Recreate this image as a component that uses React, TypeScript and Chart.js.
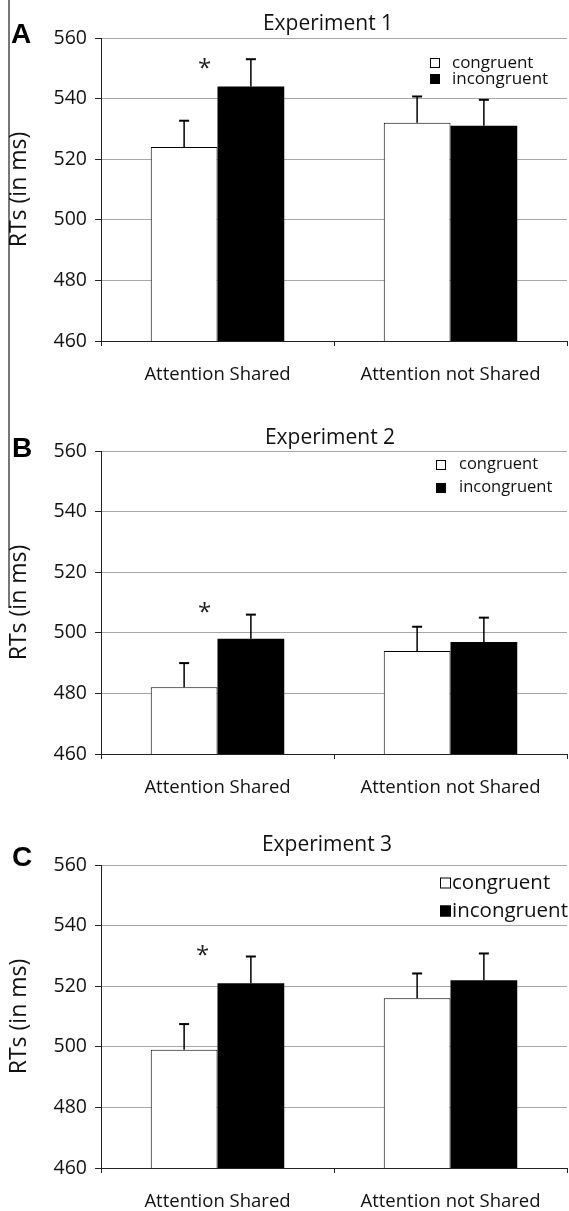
import React, { useEffect, useRef } from "react";
import { Chart, registerables } from "chart.js";

Chart.register(...registerables);

// ---------- data ----------
const categories = ["Attention Shared", "Attention not Shared"];
const seriesNames = ["congruent", "incongruent"];
const panelTitles = ["Experiment 1", "Experiment 2", "Experiment 3"];
const panelLetters = ["A", "B", "C"];

const exp1Congruent = [524, 532];
const exp1Incongruent = [544, 531];
const exp1CongruentErr = [8.7, 8.7];
const exp1IncongruentErr = [9, 8.6];

const exp2Congruent = [482, 494];
const exp2Incongruent = [498, 497];
const exp2CongruentErr = [8, 8];
const exp2IncongruentErr = [8, 8];

const exp3Congruent = [499, 516];
const exp3Incongruent = [521, 522];
const exp3CongruentErr = [8.5, 8.2];
const exp3IncongruentErr = [8.8, 8.8];

// significance star value (over "Attention Shared")
const starValues = [552, 508.6, 532];

const yMin = 460;
const yMax = 560;
const yStep = 20;
const yAxisTitle = "RTs (in ms)";

// ---------- layout / style ----------
const FONT = "'Open Sans', sans-serif";
const W = 569;

type PanelLayout = {
  canvasTop: number;
  canvasHeight: number;
  areaTop: number;
  areaBottom: number;
  axisH: number;
  titleX: number;
  titleCapMid: number;
  letterX: number;
  letterBaseline: number;
  legendBoxX: number;
  legendTextX: number;
  legendRows: number[];
  legendFont: number;
  legendBox: number;
  starDx: number;
};

const layouts: PanelLayout[] = [
  {
    canvasTop: 0, canvasHeight: 400, areaTop: 38, areaBottom: 341, axisH: 50,
    titleX: 328, titleCapMid: 23, letterX: 11, letterBaseline: 43,
    legendBoxX: 430, legendTextX: 452, legendRows: [63, 79], legendFont: 17, legendBox: 10, starDx: -13,
  },
  {
    canvasTop: 400, canvasHeight: 410, areaTop: 451, areaBottom: 754, axisH: 50,
    titleX: 330, titleCapMid: 437, letterX: 12, letterBaseline: 457,
    legendBoxX: 436, legendTextX: 459, legendRows: [465, 488], legendFont: 16.5, legendBox: 10, starDx: -13,
  },
  {
    canvasTop: 810, canvasHeight: 401, areaTop: 865, areaBottom: 1168, axisH: 40,
    titleX: 327, titleCapMid: 844, letterX: 12, letterBaseline: 866,
    legendBoxX: 440, legendTextX: 452, legendRows: [883, 911], legendFont: 20.5, legendBox: 11, starDx: -15,
  },
];

const panelData = [
  { c: exp1Congruent, i: exp1Incongruent, ce: exp1CongruentErr, ie: exp1IncongruentErr },
  { c: exp2Congruent, i: exp2Incongruent, ce: exp2CongruentErr, ie: exp2IncongruentErr },
  { c: exp3Congruent, i: exp3Incongruent, ce: exp3CongruentErr, ie: exp3IncongruentErr },
];

const decorPlugin = {
  id: "decor",
  afterDatasetsDraw(chart: any, _args: any, opts: any) {
    const ctx = chart.ctx;
    const ys = chart.scales.y;
    const errs: number[][] = opts.errors;
    chart.data.datasets.forEach((ds: any, di: number) => {
      const meta = chart.getDatasetMeta(di);
      meta.data.forEach((el: any, i: number) => {
        const v = ds.data[i] as number;
        const yTop = ys.getPixelForValue(v + errs[di][i]);
        ctx.save();
        ctx.strokeStyle = "#000";
        ctx.lineWidth = 1.5;
        ctx.beginPath();
        ctx.moveTo(el.x, el.y);
        ctx.lineTo(el.x, yTop);
        ctx.stroke();
        ctx.lineWidth = 2;
        ctx.beginPath();
        ctx.moveTo(el.x - 5, yTop);
        ctx.lineTo(el.x + 5, yTop);
        ctx.stroke();
        ctx.restore();
      });
    });
  },
  afterDraw(chart: any, _args: any, opts: any) {
    const ctx = chart.ctx;
    const L: PanelLayout = opts.layout;
    const off = L.canvasTop;
    const xs = chart.scales.x;
    const ys = chart.scales.y;
    ctx.save();
    ctx.fillStyle = "#111";
    // title
    const tSize = 21;
    ctx.font = `${tSize}px ${FONT}`;
    ctx.textAlign = "center";
    ctx.textBaseline = "alphabetic";
    ctx.fillText(opts.title, L.titleX, L.titleCapMid - off + tSize * 0.357);
    // letter
    ctx.font = `bold 28px 'Liberation Sans', Arial, sans-serif`;
    ctx.textAlign = "left";
    ctx.fillStyle = "#000";
    ctx.fillText(opts.letter, L.letterX, L.letterBaseline - off);
    // star
    const sSize = 24;
    ctx.font = `${sSize}px ${FONT}`;
    ctx.textAlign = "center";
    ctx.fillStyle = "#222";
    const sx = xs.getPixelForValue(0) + L.starDx;
    const sy = ys.getPixelForValue(opts.star);
    ctx.fillText("*", sx, sy + sSize * 0.56);
    // legend
    ctx.font = `${L.legendFont}px ${FONT}`;
    ctx.textAlign = "left";
    chart.data.datasets.forEach((ds: any, di: number) => {
      const cy = Math.round(L.legendRows[di] - off);
      const b = L.legendBox;
      ctx.fillStyle = ds.backgroundColor;
      ctx.fillRect(L.legendBoxX, cy - b / 2, b, b);
      ctx.strokeStyle = "#000";
      ctx.lineWidth = 1;
      ctx.strokeRect(L.legendBoxX + 0.5, cy - b / 2 + 0.5, b - 1, b - 1);
      ctx.fillStyle = "#111";
      ctx.fillText(ds.label, L.legendTextX, cy + L.legendFont * 0.27);
    });
    ctx.restore();
  },
};

function Panel({ index }: { index: number }) {
  const ref = useRef<HTMLCanvasElement>(null);
  const L = layouts[index];
  const d = panelData[index];
  useEffect(() => {
    if (!ref.current) return;
    const padTop = L.areaTop - L.canvasTop;
    const padBottom = L.canvasTop + L.canvasHeight - L.areaBottom - L.axisH;
    const chart = new Chart(ref.current, {
      type: "bar",
      data: {
        labels: categories,
        datasets: [
          {
            label: seriesNames[0],
            data: d.c,
            backgroundColor: "#ffffff",
            borderColor: "#000000",
            borderWidth: 1,
            borderSkipped: "bottom",
            categoryPercentage: 0.573,
            barPercentage: 1.0,
          },
          {
            label: seriesNames[1],
            data: d.i,
            backgroundColor: "#000000",
            borderColor: "#000000",
            borderWidth: 0,
            categoryPercentage: 0.573,
            barPercentage: 1.0,
          },
        ],
      },
      options: {
        animation: false,
        responsive: false,
        devicePixelRatio: 1,
        layout: { padding: { left: 0, right: W - 567, top: padTop, bottom: padBottom } },
        scales: {
          x: {
            offset: true,
            grid: {
              display: true,
              drawOnChartArea: false,
              drawTicks: true,
              tickLength: 5,
              tickColor: "#222",
              offset: true,
            },
            border: { display: true, color: "#222", width: 1 },
            ticks: {
              font: { family: FONT, size: 18.5 },
              color: "#111",
              padding: 18,
              maxRotation: 0,
              autoSkip: false,
            },
            afterFit: (s: any) => {
              s.height = L.axisH;
            },
          },
          y: {
            min: yMin,
            max: yMax,
            ticks: { stepSize: yStep, font: { family: FONT, size: 19.5 }, color: "#111", padding: 8 },
            grid: { color: "#a6a6a6", lineWidth: 1, tickColor: "#222", tickLength: 6, drawTicks: true },
            border: { display: true, color: "#222", width: 1 },
            title: {
              display: true,
              text: yAxisTitle,
              font: { family: FONT, size: 23 },
              color: "#111",
              padding: { top: 6, bottom: 0 },
            },
            afterFit: (s: any) => {
              s.width = 101;
            },
          },
        },
        plugins: {
          legend: { display: false },
          tooltip: { enabled: false },
          decor: {
            layout: L,
            title: panelTitles[index],
            letter: panelLetters[index],
            star: starValues[index],
            errors: [d.ce, d.ie],
          },
        } as any,
      },
      plugins: [decorPlugin],
    });
    return () => chart.destroy();
  }, []);
  return (
    <canvas
      ref={ref}
      width={W}
      height={L.canvasHeight}
      style={{ position: "absolute", left: 0, top: L.canvasTop, width: W, height: L.canvasHeight }}
    />
  );
}

export default function App() {
  return (
    <div style={{ position: "absolute", left: 0, top: 0, width: W, height: 1211, background: "#fff", overflow: "hidden" }}>
      <div style={{ position: "absolute", left: 8, top: 0, width: 2, height: 608, background: "#777" }} />
      <Panel index={0} />
      <Panel index={1} />
      <Panel index={2} />
    </div>
  );
}
